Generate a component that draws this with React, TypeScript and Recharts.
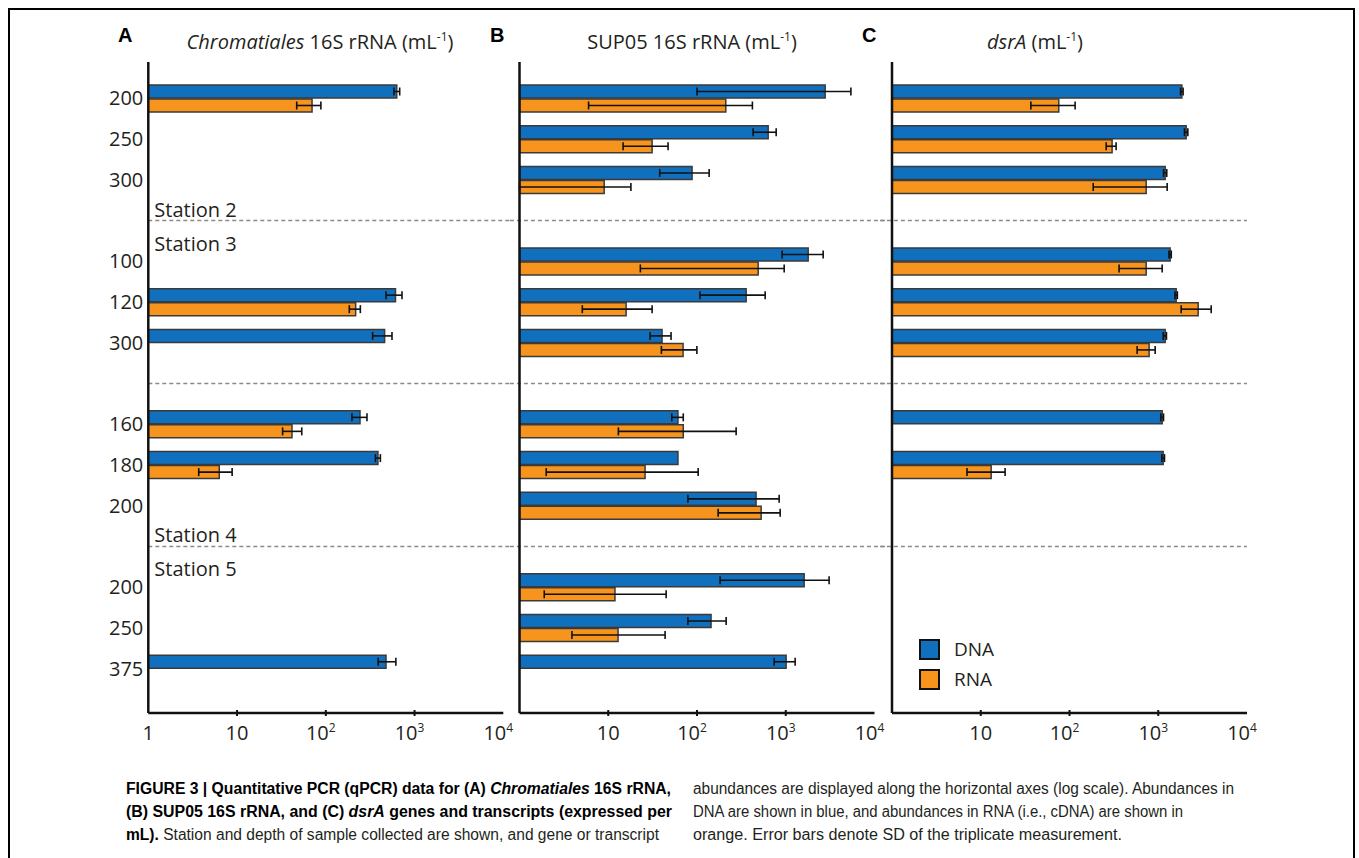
import React from 'react';
import { BarChart, Bar, XAxis, YAxis, ErrorBar, ReferenceLine, Legend, Rectangle } from 'recharts';

// ---------- data ----------
const rowIds = ['r0', 'r1', 'r2', 'g1', 'r4', 'r5', 'r6', 'g2', 'r8', 'r9', 'r10', 'g3', 'r12', 'r13', 'r14'];
const depthLabels = ['200', '250', '300', '', '100', '120', '300', '', '160', '180', '200', '', '200', '250', '375'];
const gapIds = ['g1', 'g2', 'g3'];
const stationAbove = ['Station 2', '', 'Station 4'];
const stationBelow = ['Station 3', '', 'Station 5'];

const xTicks = [1, 10, 100, 1000, 10000];
const xTickBase = ['1', '10', '10', '10', '10'];
const xTickExp = ['', '', '2', '3', '4'];

type Err = [number, number] | null;

// Panel A: Chromatiales 16S rRNA
const chromDNA: (number | null)[] = [630, null, null, null, null, 610, 460, null, 243, 387, null, null, null, null, 477];
const chromDNAErr: Err[] = [[45, 50], null, null, null, null, [133, 112], [123, 97], null, [46, 48], [25, 25], null, null, null, null, [88, 139]];
const chromRNA: (number | null)[] = [70, null, null, null, null, 217, null, null, 41.6, 6.3, null, null, null, null, null];
const chromRNAErr: Err[] = [[23, 18], null, null, null, null, [33, 28], null, null, [9, 12], [2.6, 2.5], null, null, null, null, null];

// Panel B: SUP05 16S rRNA
const supDNA: (number | null)[] = [2780, 634, 88, null, 1790, 358, 40.4, null, 61, 61, 463, null, 1612, 144, 1010];
const supDNAErr: Err[] = [[2680, 2640], [205, 146], [50, 49], null, [880, 850], [250, 228], [10.8, 10.6], null, [9, 9], null, [384, 380], null, [1430, 1468], [65, 69], [270, 266]];
const supRNA: (number | null)[] = [211, 31.2, 9, null, 489, 15.9, 69.7, null, 70, 26, 528, null, 11.9, 12.9, null];
const supRNAErr: Err[] = [[205, 210], [16.5, 16], [8, 9], null, [466, 471], [10.8, 15.3], [30, 30], null, [57, 206], [24, 77], [355, 337], null, [10, 33], [9, 30.8], null];

// Panel C: dsrA
const dsrDNA: (number | null)[] = [1845, 2064, 1197, null, 1362, 1592, 1197, null, 1107, 1136, null, null, null, null, null];
const dsrDNAErr: Err[] = [[60, 60], [90, 90], [50, 50], null, [40, 40], [50, 50], [60, 40], null, [40, 40], [40, 40], null, null, null, null, null];
const dsrRNA: (number | null)[] = [75.7, 302, 731, null, 731, 2818, 789, null, null, 13.1, null, null, null, null, null];
const dsrRNAErr: Err[] = [[39, 40], [43, 33], [546, 529], null, [369, 376], [1006, 1130], [211, 134], null, null, [6.1, 5.7], null, null, null, null, null];

// separator line extents (x values, log axis)
const sepA = [1, 12000];
const sepB = [0.78, 16000];
const sepC = [0.73, 10000];

// ---------- styles ----------
const BLUE = '#1170BD';
const ORANGE = '#F7941E';
const BAR_STROKE = '#3a3a3a';
const INK = '#231F20';
const SANS = '"Open Sans", "Noto Sans", sans-serif';

function buildRows(dna: (number | null)[], dnaErr: Err[], rna: (number | null)[], rnaErr: Err[]) {
  return rowIds.map((id, i) => ({
    id,
    DNA: dna[i],
    dnaErr: dnaErr[i],
    RNA: rna[i],
    rnaErr: rnaErr[i],
  }));
}

const dataA = buildRows(chromDNA, chromDNAErr, chromRNA, chromRNAErr);
const dataB = buildRows(supDNA, supDNAErr, supRNA, supRNAErr);
const dataC = buildRows(dsrDNA, dsrDNAErr, dsrRNA, dsrRNAErr);

const makeShape = (key: string) => (p: any) =>
  p.payload == null || p.payload[key] == null ? <g /> : <Rectangle {...p} />;

const makeXTick = (showOne: boolean) => (props: any) => {
  const { x, y, payload } = props;
  const i = xTicks.indexOf(payload.value);
  const base = xTickBase[i];
  const exp = xTickExp[i];
  const showMark = payload.value !== 1 && payload.value !== 10000;
  const showLabel = showOne || payload.value !== 1;
  return (
    <g>
      {showMark && <line x1={x} x2={x} y1={y - 3} y2={y + 3} stroke="#111" strokeWidth={2} />}
      {showLabel && (
        <text x={exp ? x - 5 : x} y={y + 27} textAnchor="middle" fontFamily={SANS} fontSize={20} fill={INK}>
          {base}
          {exp && (
            <tspan dy={-8} fontSize={12}>
              {exp}
            </tspan>
          )}
        </text>
      )}
    </g>
  );
};

const YTick = (props: any) => {
  const { x, y, payload } = props;
  const idx = rowIds.indexOf(payload.value);
  return (
    <text x={x} y={y} dy={7} textAnchor="end" fontFamily={SANS} fontSize={20} fill={INK}>
      {depthLabels[idx]}
    </text>
  );
};

const makeStationLabel = (i: number) => (props: any) => {
  const vb = props.viewBox || {};
  const x = (vb.x || 0) + 6;
  const y = vb.y || 0;
  return (
    <g>
      {stationAbove[i] && (
        <text x={x} y={y - 4} fontFamily={SANS} fontSize={20} fill={INK}>
          {stationAbove[i]}
        </text>
      )}
      {stationBelow[i] && (
        <text x={x} y={y + 30} fontFamily={SANS} fontSize={20} fill={INK}>
          {stationBelow[i]}
        </text>
      )}
    </g>
  );
};

const LegendContent = (props: any) => {
  const items = props.payload || [];
  return (
    <div style={{ fontFamily: SANS }}>
      {items.map((it: any) => (
        <div key={it.value} style={{ display: 'flex', alignItems: 'center', height: 30 }}>
          <div
            style={{
              width: 21,
              height: 21,
              boxSizing: 'border-box',
              border: '2.5px solid #111',
              background: it.color,
            }}
          />
          <span style={{ marginLeft: 14, fontSize: 19, color: INK }}>{it.value}</span>
        </div>
      ))}
    </div>
  );
};

const CHART_H = 740;
const AXIS = { stroke: '#111', strokeWidth: 2.5 };

function Panel(props: {
  data: any[];
  width: number;
  yWidth: number;
  right: number;
  showYTicks: boolean;
  showOne: boolean;
  sep: number[];
  stations: boolean;
  legend?: boolean;
}) {
  const { data, width, yWidth, right, showYTicks, showOne, sep, stations, legend } = props;
  return (
    <BarChart
      width={width}
      height={CHART_H}
      data={data}
      layout="vertical"
      margin={{ top: 42, right, bottom: 0, left: 0 }}
      barGap={1}
    >
      <XAxis
        type="number"
        scale="log"
        domain={[1, 10000]}
        ticks={xTicks}
        allowDataOverflow
        interval={0}
        height={47}
        axisLine={AXIS}
        tickLine={false}
        tickSize={0}
        tickMargin={0}
        tick={makeXTick(showOne)}
      />
      <YAxis
        type="category"
        dataKey="id"
        width={yWidth}
        interval={0}
        padding={{ top: 16, bottom: 24 }}
        axisLine={AXIS}
        tickLine={false}
        tickSize={0}
        tickMargin={5}
        tick={showYTicks ? YTick : false}
      />
      {gapIds.map((g, i) => (
        <ReferenceLine
          key={g}
          segment={[
            { x: sep[0], y: g },
            { x: sep[1], y: g },
          ]}
          ifOverflow="visible"
          stroke="#8a8a8a"
          strokeWidth={1.5}
          strokeDasharray="4 3"
          label={stations ? makeStationLabel(i) : undefined}
        />
      ))}
      <Bar
        dataKey="DNA"
        name="DNA"
        fill={BLUE}
        stroke={BAR_STROKE}
        strokeWidth={1.5}
        barSize={13}
        isAnimationActive={false}
        shape={makeShape('DNA')}
      >
        <ErrorBar dataKey="dnaErr" direction="x" width={4} stroke="#111" strokeWidth={1.6} isAnimationActive={false} />
      </Bar>
      <Bar
        dataKey="RNA"
        name="RNA"
        fill={ORANGE}
        stroke={BAR_STROKE}
        strokeWidth={1.5}
        barSize={13}
        isAnimationActive={false}
        shape={makeShape('RNA')}
      >
        <ErrorBar dataKey="rnaErr" direction="x" width={4} stroke="#111" strokeWidth={1.6} isAnimationActive={false} />
      </Bar>
      {legend && (
        <Legend
          layout="horizontal"
          verticalAlign="middle"
          align="center"
          content={LegendContent}
          wrapperStyle={{ position: 'absolute', left: 39, top: 614, width: 120, height: 60 }}
        />
      )}
    </BarChart>
  );
}

const titleStyle: React.CSSProperties = {
  position: 'absolute',
  width: 400,
  textAlign: 'center',
  fontFamily: SANS,
  fontSize: 20,
  lineHeight: '20px',
  color: INK,
  whiteSpace: 'nowrap',
};
const letterStyle: React.CSSProperties = {
  position: 'absolute',
  fontFamily: '"Liberation Sans", Arial, sans-serif',
  fontWeight: 'bold',
  fontSize: 20,
  lineHeight: '20px',
  color: '#000',
};
const supStyle: React.CSSProperties = { fontSize: 12, verticalAlign: 8 };

const CAP_FONT = '"Liberation Sans", Arial, sans-serif';

function Caption() {
  const lx = 16; // page x 126
  const rx = 583; // page x 693
  const b1 = 34;
  const b2 = 57;
  const b3 = 80;
  const common = { fontFamily: CAP_FONT, fontSize: 16, lengthAdjust: 'spacingAndGlyphs' as const };
  return (
    <svg width={1240} height={95} style={{ position: 'absolute', left: 100, top: 750 }}>
      <text x={lx} y={b1} textLength={545} {...common} fontWeight="bold" fill="#000">
        FIGURE 3 | Quantitative PCR (qPCR) data for (A) <tspan fontStyle="italic">Chromatiales</tspan> 16S rRNA,
      </text>
      <text x={lx} y={b2} textLength={546} {...common} fontWeight="bold" fill="#000">
        (B) SUP05 16S rRNA, and (C) <tspan fontStyle="italic">dsrA</tspan> genes and transcripts (expressed per
      </text>
      <text x={lx} y={b3} textLength={533} {...common} fill={INK}>
        <tspan fontWeight="bold" fill="#000">mL).</tspan> Station and depth of sample collected are shown, and gene or transcript
      </text>
      <text x={rx} y={b1} textLength={541} {...common} fill={INK}>
        abundances are displayed along the horizontal axes (log scale). Abundances in
      </text>
      <text x={rx} y={b2} textLength={490} {...common} fill={INK}>
        DNA are shown in blue, and abundances in RNA (i.e., cDNA) are shown in
      </text>
      <text x={rx} y={b3} textLength={429} {...common} fill={INK}>
        orange. Error bars denote SD of the triplicate measurement.
      </text>
    </svg>
  );
}

export default function App() {
  return (
    <div
      style={{
        position: 'fixed',
        left: 8,
        top: 8,
        width: 1343,
        height: 860,
        borderTop: '2px solid #000',
        borderLeft: '2px solid #000',
        borderRight: '2px solid #000',
        background: '#fff',
      }}
    >
      <div style={{ ...letterStyle, left: 108, top: 15 }}>A</div>
      <div style={{ ...letterStyle, left: 480, top: 15 }}>B</div>
      <div style={{ ...letterStyle, left: 852, top: 15 }}>C</div>

      <div style={{ ...titleStyle, left: 310 - 200, top: 17 }}>
        <i>Chromatiales</i> 16S rRNA (mL<span style={supStyle}>-1</span>)
      </div>
      <div style={{ ...titleStyle, left: 682 - 200, top: 17 }}>
        SUP05 16S rRNA (mL<span style={supStyle}>-1</span>)
      </div>
      <div style={{ ...titleStyle, left: 1025 - 200, top: 17 }}>
        <i>dsrA</i> (mL<span style={supStyle}>-1</span>)
      </div>

      <div style={{ position: 'absolute', left: 10, top: 10 }}>
        <Panel data={dataA} width={495} yWidth={128.3} right={11.7} showYTicks showOne sep={sepA} stations />
      </div>
      <div style={{ position: 'absolute', left: 495, top: 10 }}>
        <Panel data={dataB} width={380} yWidth={14.5} right={10.5} showYTicks={false} showOne={false} sep={sepB} stations={false} />
      </div>
      <div style={{ position: 'absolute', left: 870, top: 10 }}>
        <Panel data={dataC} width={385} yWidth={12} right={18} showYTicks={false} showOne={false} sep={sepC} stations={false} legend />
      </div>

      <Caption />
    </div>
  );
}
